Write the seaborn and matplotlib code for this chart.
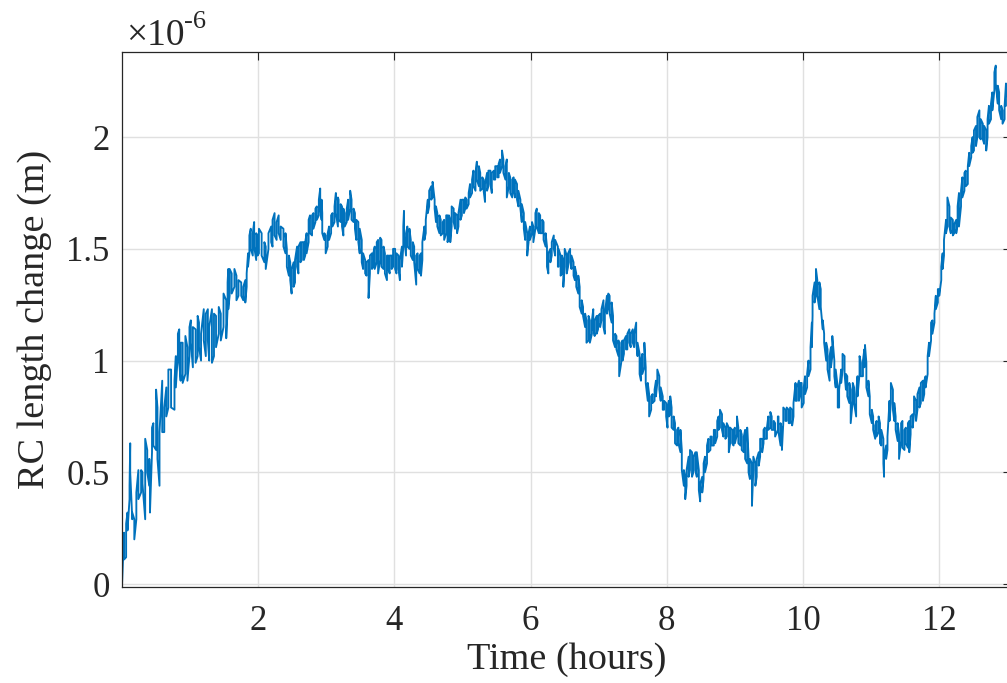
import numpy as np
import pandas as pd
import seaborn as sns
import matplotlib
matplotlib.use("Agg")
import matplotlib.pyplot as plt
from matplotlib.ticker import FuncFormatter

# trace: for every time step the upper and lower edge
# of the noisy band (length change in units of 1e-6 m)
hours = [
    0, 0.01, 0.03, 0.06, 0.08, 0.11, 0.12, 0.15, 0.18, 0.21, 0.24, 0.28, 0.30, 0.34, 0.37,
    0.40, 0.41, 0.44, 0.46, 0.50, 0.52, 0.55, 0.59, 0.62, 0.65, 0.68, 0.72, 0.77, 0.79, 0.82,
    0.84, 0.86, 0.89, 0.93, 0.96, 0.99, 1.01, 1.04, 1.08, 1.11, 1.13, 1.16, 1.20, 1.23, 1.26,
    1.28, 1.32, 1.35, 1.38, 1.42, 1.45, 1.49, 1.53, 1.55, 1.56,
    1.58, 1.61, 1.65, 1.68, 1.71, 1.75, 1.78, 1.81, 1.83, 1.85, 1.87, 1.89, 1.92, 1.94, 1.97,
    1.99, 2.01, 2.05, 2.09, 2.11, 2.15, 2.19, 2.21, 2.24, 2.27, 2.30, 2.33, 2.37, 2.40, 2.42,
    2.45, 2.47, 2.49, 2.52, 2.54, 2.57, 2.59, 2.62, 2.64, 2.67, 2.69, 2.71, 2.74, 2.76, 2.79,
    2.81, 2.84, 2.86, 2.89, 2.91, 2.93, 2.94, 2.97, 2.99, 3.02, 3.04, 3.07, 3.09, 3.12, 3.14, 3.17,
    3.18, 3.21, 3.23, 3.25, 3.27, 3.30, 3.32, 3.35, 3.37, 3.40, 3.42, 3.44, 3.47, 3.49, 3.52,
    3.54, 3.57, 3.59, 3.62, 3.64, 3.67, 3.69, 3.71, 3.74, 3.76, 3.79, 3.81, 3.84, 3.86, 3.89,
    3.91, 3.93, 3.96, 3.98, 4.01, 4.03, 4.06, 4.08, 4.11, 4.13, 4.14, 4.17, 4.19, 4.22, 4.24,
    4.27, 4.29, 4.32, 4.34, 4.37, 4.39, 4.41, 4.44, 4.46, 4.49, 4.51, 4.54, 4.56, 4.59, 4.61,
    4.63, 4.66, 4.68, 4.71, 4.73, 4.76, 4.78,
    4.80, 4.82, 4.84, 4.87, 4.89, 4.92, 4.94, 4.97, 4.99, 5.02, 5.04, 5.06, 5.09, 5.11, 5.14,
    5.16, 5.19, 5.21, 5.24, 5.26, 5.29, 5.31, 5.33, 5.36, 5.38, 5.41, 5.43, 5.46, 5.48, 5.51,
    5.53, 5.55, 5.58, 5.60, 5.63, 5.65, 5.68, 5.70, 5.73, 5.75, 5.77, 5.80, 5.82, 5.85, 5.87,
    5.90, 5.92, 5.95, 5.97, 5.99, 6.02, 6.04, 6.07, 6.09, 6.12, 6.14, 6.17, 6.19, 6.22, 6.24,
    6.26, 6.29, 6.31, 6.34, 6.36, 6.40,
    6.41, 6.44, 6.46, 6.48, 6.50, 6.53, 6.55, 6.58, 6.60, 6.63, 6.65, 6.67, 6.70, 6.72, 6.75,
    6.77, 6.80, 6.82, 6.85, 6.87, 6.90, 6.92, 6.94, 6.97, 6.99, 7.02, 7.04, 7.07, 7.09, 7.12,
    7.14, 7.16, 7.19, 7.21, 7.24, 7.26, 7.29, 7.30, 7.33, 7.35, 7.37, 7.40, 7.42, 7.45, 7.47,
    7.50, 7.52, 7.55, 7.57, 7.60, 7.62, 7.64, 7.67, 7.69, 7.72, 7.74, 7.77, 7.79, 7.82, 7.84,
    7.86, 7.89, 7.91, 7.94, 7.96, 7.99, 8.01,
    8.03, 8.05, 8.07, 8.10, 8.12, 8.15, 8.17, 8.20, 8.22, 8.25, 8.27, 8.29, 8.32, 8.34, 8.37,
    8.39, 8.42, 8.44, 8.47, 8.49, 8.52, 8.54, 8.56, 8.59, 8.61, 8.64, 8.66, 8.69, 8.71, 8.74,
    8.76, 8.78, 8.81, 8.83, 8.86, 8.88, 8.91, 8.93, 8.96, 8.98, 9.00, 9.03, 9.05, 9.08, 9.10,
    9.13, 9.15, 9.18, 9.20, 9.22, 9.25, 9.27, 9.30, 9.32, 9.35, 9.37, 9.40, 9.42, 9.44, 9.47,
    9.49, 9.52, 9.54, 9.57, 9.59, 9.63,
    9.64, 9.67, 9.69, 9.71, 9.74, 9.76, 9.79, 9.81, 9.84, 9.86, 9.89, 9.91, 9.94, 9.96, 9.98,
    10.01, 10.03, 10.06, 10.08, 10.11, 10.13, 10.14, 10.17, 10.19, 10.21, 10.24, 10.26, 10.29,
    10.31, 10.34, 10.36, 10.39, 10.41, 10.43, 10.46, 10.48, 10.51, 10.53, 10.56, 10.58, 10.61,
    10.63, 10.65, 10.68, 10.70, 10.73, 10.75, 10.78, 10.80, 10.83, 10.85, 10.88, 10.90, 10.91,
    10.93, 10.96, 10.98, 11.01, 11.03, 11.06, 11.08, 11.11, 11.13, 11.15, 11.18, 11.19, 11.22, 11.24,
    11.27, 11.29, 11.32, 11.34, 11.36, 11.39, 11.41, 11.44, 11.46, 11.49, 11.51, 11.54, 11.56,
    11.58, 11.61, 11.63, 11.66, 11.68, 11.71, 11.73, 11.76, 11.78, 11.80, 11.83, 11.85, 11.88,
    11.90, 11.93, 11.95, 11.98, 12.00, 12.03, 12.05, 12.07, 12.10, 12.12, 12.15, 12.17, 12.20,
    12.22, 12.25, 12.27, 12.29, 12.32, 12.34, 12.37, 12.39, 12.42, 12.44, 12.47, 12.49, 12.51,
    12.54, 12.56, 12.59, 12.61, 12.64, 12.66, 12.69, 12.71, 12.73, 12.76, 12.78, 12.81, 12.83,
    12.86, 12.88, 12.91, 12.93, 12.96, 12.98,
]
upper = [
    0.02, 0.09, 0.23, 0.27, 0.32, 0.44, 0.63, 0.32, 0.29, 0.41, 0.51, 0.51, 0.50, 0.65, 0.60,
    0.56, 0.42, 0.70, 0.72, 0.87, 0.79, 0.68, 0.91, 0.79, 0.88, 0.96, 0.96, 0.91, 1.02, 1.12,
    1.14, 1.08, 1.08, 1.11, 1.06, 1.15, 1.18, 1.15, 1.14, 1.20, 1.17, 1.12, 1.23, 1.21, 1.23,
    1.15, 1.23, 1.21, 1.20, 1.24, 1.21, 1.30, 1.27, 1.35, 1.41,
    1.41, 1.39, 1.41, 1.38, 1.36, 1.35, 1.33, 1.36, 1.39, 1.48, 1.56, 1.59, 1.57, 1.62, 1.57,
    1.56, 1.59, 1.57, 1.53, 1.51, 1.57, 1.60, 1.63, 1.66, 1.62, 1.65, 1.60, 1.59, 1.57, 1.50,
    1.47, 1.44, 1.41, 1.44, 1.45, 1.51, 1.51, 1.53, 1.53, 1.53, 1.53, 1.57, 1.63, 1.65, 1.65,
    1.66, 1.68, 1.69, 1.72, 1.77, 1.72, 1.66, 1.57, 1.56, 1.57, 1.60, 1.65, 1.66, 1.69, 1.75, 1.73,
    1.72, 1.70, 1.69, 1.68, 1.66, 1.68, 1.72, 1.76, 1.72, 1.68, 1.66, 1.63, 1.62, 1.59, 1.54,
    1.48, 1.45, 1.44, 1.45, 1.47, 1.48, 1.48, 1.51, 1.53, 1.54, 1.55, 1.54, 1.51, 1.48, 1.47,
    1.47, 1.47, 1.47, 1.50, 1.50, 1.48, 1.47, 1.45, 1.51, 1.60, 1.67, 1.57, 1.60, 1.59, 1.54,
    1.53, 1.51, 1.47, 1.48, 1.47, 1.48, 1.53, 1.60, 1.63, 1.72, 1.76, 1.78, 1.80, 1.72, 1.69,
    1.66, 1.65, 1.63, 1.62, 1.63, 1.65, 1.65,
    1.65, 1.63, 1.69, 1.68, 1.66, 1.65, 1.66, 1.72, 1.72, 1.72, 1.73, 1.72, 1.75, 1.79, 1.81,
    1.85, 1.84, 1.89, 1.87, 1.84, 1.82, 1.81, 1.79, 1.84, 1.85, 1.85, 1.84, 1.85, 1.87, 1.87,
    1.88, 1.90, 1.94, 1.90, 1.87, 1.90, 1.84, 1.82, 1.81, 1.82, 1.81, 1.79, 1.76, 1.72, 1.70,
    1.66, 1.62, 1.57, 1.57, 1.60, 1.62, 1.60, 1.66, 1.68, 1.66, 1.65, 1.63, 1.62, 1.57, 1.51,
    1.48, 1.50, 1.53, 1.56, 1.54, 1.51,
    1.50, 1.47, 1.47, 1.45, 1.50, 1.47, 1.48, 1.50, 1.47, 1.44, 1.42, 1.39, 1.38, 1.33, 1.27,
    1.24, 1.21, 1.18, 1.20, 1.18, 1.18, 1.23, 1.18, 1.20, 1.20, 1.21, 1.23, 1.27, 1.21, 1.29,
    1.30, 1.29, 1.26, 1.20, 1.12, 1.11, 1.09, 1.06, 1.08, 1.09, 1.09, 1.11, 1.12, 1.14, 1.12,
    1.14, 1.12, 1.17, 1.08, 1.03, 1.00, 1.03, 1.08, 0.97, 0.90, 0.85, 0.84, 0.85, 0.87, 0.91,
    0.96, 0.93, 0.88, 0.84, 0.82, 0.81, 0.79,
    0.82, 0.84, 0.79, 0.75, 0.72, 0.69, 0.70, 0.69, 0.60, 0.51, 0.48, 0.51, 0.57, 0.60, 0.59,
    0.57, 0.59, 0.59, 0.51, 0.45, 0.48, 0.54, 0.57, 0.62, 0.65, 0.66, 0.66, 0.69, 0.69, 0.73,
    0.75, 0.78, 0.76, 0.72, 0.70, 0.72, 0.70, 0.70, 0.69, 0.69, 0.70, 0.75, 0.70, 0.69, 0.67,
    0.66, 0.69, 0.70, 0.57, 0.56, 0.54, 0.57, 0.54, 0.56, 0.59, 0.65, 0.65, 0.69, 0.70, 0.70,
    0.75, 0.77, 0.75, 0.73, 0.72, 0.75,
    0.75, 0.72, 0.69, 0.79, 0.78, 0.79, 0.78, 0.79, 0.78, 0.81, 0.90, 0.88, 0.91, 0.90, 0.90,
    0.88, 0.93, 0.94, 1.00, 1.06, 1.17, 1.29, 1.35, 1.41, 1.36, 1.35, 1.32, 1.18,
    1.12, 1.08, 1.05, 1.02, 1.06, 1.11, 1.00, 0.96, 0.88, 0.87, 0.96, 1.03, 1.02,
    0.94, 0.93, 0.90, 0.87, 0.90, 0.88, 0.85, 0.93, 1.02, 0.99, 1.00, 1.05, 1.07,
    0.99, 0.91, 0.84, 0.78, 0.75, 0.71, 0.73, 0.75, 0.72, 0.69, 0.65, 0.57, 0.62, 0.66,
    0.82, 0.90, 0.87, 0.81, 0.75, 0.72, 0.67, 0.72, 0.73, 0.69, 0.70, 0.72, 0.73,
    0.75, 0.76, 0.84, 0.82, 0.85, 0.88, 0.90, 0.91, 0.91, 0.93, 1.02, 1.08, 1.17,
    1.18, 1.21, 1.29, 1.32, 1.32, 1.42, 1.48, 1.54, 1.63, 1.73, 1.69, 1.64, 1.63,
    1.61, 1.63, 1.69, 1.75, 1.76, 1.82, 1.84, 1.85, 1.87, 1.93, 1.96, 2.00, 2.03,
    2.05, 2.09, 2.12, 2.08, 2.06, 2.05, 2.03, 2.08, 2.14, 2.15, 2.20, 2.29, 2.32,
    2.23, 2.20, 2.14, 2.12, 2.14, 2.24,
]
lower = [
    0.00, 0.08, 0.11, 0.12, 0.24, 0.38, 0.50, 0.29, 0.20, 0.29, 0.38, 0.41, 0.45, 0.29, 0.50,
    0.44, 0.32, 0.59, 0.62, 0.60, 0.56, 0.44, 0.68, 0.68, 0.75, 0.79, 0.79, 0.78, 0.88, 1.03,
    0.99, 0.91, 0.90, 0.94, 0.91, 1.02, 1.08, 0.97, 0.99, 1.02, 1.06, 1.00, 1.09, 1.02, 1.09,
    1.00, 0.99, 1.02, 1.06, 1.12, 1.09, 1.15, 1.10, 1.23, 1.23,
    1.29, 1.30, 1.33, 1.27, 1.29, 1.29, 1.27, 1.26, 1.33, 1.42, 1.48, 1.50, 1.47, 1.51, 1.45,
    1.47, 1.48, 1.47, 1.44, 1.41, 1.50, 1.53, 1.51, 1.56, 1.54, 1.57, 1.54, 1.51, 1.48, 1.42,
    1.38, 1.36, 1.30, 1.33, 1.35, 1.42, 1.39, 1.44, 1.45, 1.45, 1.47, 1.48, 1.53, 1.57, 1.56,
    1.59, 1.62, 1.63, 1.65, 1.69, 1.63, 1.57, 1.54, 1.48, 1.51, 1.54, 1.57, 1.60, 1.62, 1.66, 1.60,
    1.63, 1.62, 1.60, 1.56, 1.60, 1.62, 1.63, 1.68, 1.63, 1.62, 1.59, 1.54, 1.53, 1.48, 1.44,
    1.41, 1.39, 1.38, 1.28, 1.39, 1.41, 1.42, 1.41, 1.44, 1.39, 1.45, 1.42, 1.41, 1.39, 1.36,
    1.41, 1.39, 1.41, 1.42, 1.41, 1.39, 1.41, 1.36, 1.42, 1.51, 1.56, 1.47, 1.51, 1.50, 1.47,
    1.45, 1.44, 1.34, 1.41, 1.39, 1.38, 1.45, 1.54, 1.57, 1.66, 1.69, 1.72, 1.73, 1.68, 1.62,
    1.60, 1.57, 1.56, 1.57, 1.54, 1.57, 1.53,
    1.56, 1.53, 1.60, 1.62, 1.59, 1.57, 1.60, 1.63, 1.65, 1.66, 1.68, 1.68, 1.70, 1.73, 1.75,
    1.78, 1.76, 1.81, 1.78, 1.76, 1.77, 1.76, 1.71, 1.76, 1.78, 1.79, 1.75, 1.81, 1.81, 1.82,
    1.82, 1.84, 1.87, 1.84, 1.81, 1.73, 1.78, 1.75, 1.73, 1.76, 1.73, 1.72, 1.69, 1.68, 1.62,
    1.59, 1.54, 1.47, 1.53, 1.54, 1.57, 1.53, 1.59, 1.60, 1.57, 1.57, 1.57, 1.54, 1.51, 1.42,
    1.39, 1.44, 1.47, 1.50, 1.47, 1.42,
    1.42, 1.38, 1.39, 1.33, 1.42, 1.39, 1.42, 1.44, 1.41, 1.38, 1.36, 1.33, 1.30, 1.24, 1.21,
    1.20, 1.15, 1.08, 1.09, 1.08, 1.12, 1.15, 1.11, 1.12, 1.14, 1.15, 1.18, 1.15, 1.12, 1.21,
    1.24, 1.21, 1.17, 1.09, 1.06, 1.05, 1.02, 0.93, 0.99, 1.00, 1.03, 1.05, 1.05, 1.08, 1.06,
    1.08, 1.06, 1.08, 1.02, 0.94, 0.91, 0.94, 0.97, 0.90, 0.82, 0.75, 0.78, 0.81, 0.82, 0.84,
    0.90, 0.87, 0.82, 0.78, 0.78, 0.75, 0.70,
    0.75, 0.76, 0.70, 0.69, 0.63, 0.62, 0.63, 0.59, 0.51, 0.44, 0.38, 0.44, 0.48, 0.51, 0.48,
    0.50, 0.51, 0.48, 0.42, 0.37, 0.41, 0.47, 0.50, 0.54, 0.59, 0.60, 0.62, 0.62, 0.63, 0.66,
    0.69, 0.70, 0.69, 0.66, 0.65, 0.66, 0.59, 0.63, 0.63, 0.62, 0.63, 0.67, 0.63, 0.62, 0.60,
    0.59, 0.56, 0.54, 0.50, 0.47, 0.35, 0.51, 0.44, 0.48, 0.53, 0.57, 0.59, 0.63, 0.65, 0.65,
    0.69, 0.70, 0.69, 0.69, 0.66, 0.69,
    0.68, 0.62, 0.60, 0.72, 0.73, 0.73, 0.72, 0.72, 0.71, 0.75, 0.82, 0.82, 0.82, 0.85, 0.79,
    0.81, 0.85, 0.88, 0.93, 0.96, 1.06, 1.20, 1.26, 1.30, 1.29, 1.23, 1.24, 1.14,
    1.08, 1.00, 0.96, 0.91, 0.97, 1.02, 0.93, 0.88, 0.79, 0.79, 0.90, 0.96, 0.94,
    0.87, 0.84, 0.81, 0.72, 0.82, 0.81, 0.75, 0.84, 0.94, 0.93, 0.93, 0.97, 0.99,
    0.88, 0.84, 0.76, 0.72, 0.69, 0.65, 0.66, 0.68, 0.63, 0.62, 0.54, 0.48, 0.56, 0.60,
    0.73, 0.81, 0.78, 0.73, 0.69, 0.64, 0.56, 0.64, 0.61, 0.60, 0.63, 0.61, 0.59,
    0.67, 0.70, 0.76, 0.73, 0.78, 0.79, 0.81, 0.82, 0.85, 0.88, 0.94, 1.02, 1.09,
    1.12, 1.17, 1.23, 1.26, 1.29, 1.36, 1.41, 1.47, 1.57, 1.60, 1.60, 1.57, 1.56,
    1.57, 1.57, 1.61, 1.60, 1.69, 1.73, 1.76, 1.78, 1.79, 1.87, 1.91, 1.93, 1.94,
    1.96, 2.00, 2.00, 1.99, 1.99, 1.97, 1.94, 2.00, 2.06, 2.08, 2.12, 2.21, 2.24,
    2.15, 2.12, 2.08, 2.06, 2.08, 2.14,
]
x_ticks = [2, 4, 6, 8, 10, 12]
y_ticks = [0, 0.5, 1, 1.5, 2]

# zigzag between the band edges so the line looks like the dense noisy trace
t_line, v_line = [], []
for i, (t, hi, lo) in enumerate(zip(hours, upper, lower, strict=True)):
    pair = (hi, lo) if i % 2 == 0 else (lo, hi)
    t_line += [t, t]
    v_line += list(pair)
df = pd.DataFrame({"Time (hours)": t_line,
                   "RC length change (m)": np.array(v_line) * 1e-6})

sns.set_style("white")
plt.rcParams["font.family"] = ["Liberation Serif", "DejaVu Serif"]

fig = plt.figure(figsize=(10.07, 6.83), dpi=100)
ax = fig.add_axes([0.1212, 0.1406, 0.8825, 0.7833])

sns.lineplot(data=df, x="Time (hours)", y="RC length change (m)", estimator=None,
             sort=False, color="#0072BD", linewidth=1.35, ax=ax)

ax.set_xlim(0, 13.05)
ax.set_ylim(-0.013e-6, 2.381e-6)
ax.set_xticks(x_ticks)
ax.set_yticks([v * 1e-6 for v in y_ticks])
ax.yaxis.set_major_formatter(FuncFormatter(lambda v, p: "%g" % round(v * 1e6, 3)))

ax.grid(True, color="#e0e0e0", linewidth=1.0)
ax.set_axisbelow(True)
for s in ax.spines.values():
    s.set_color("#262626")
    s.set_linewidth(0.9)
ax.tick_params(direction="in", length=6, width=0.8, top=True, right=True,
               labelsize=25, colors="#262626")
ax.tick_params(axis="x", pad=13)
ax.tick_params(axis="y", pad=9)
ax.set_xlabel("Time (hours)", fontsize=27.5, color="#262626", labelpad=3)
ax.set_ylabel("RC length change (m)", fontsize=27.5, color="#262626", labelpad=10)

# exponent label in the corner, drawn like the original (x10 with a raised -6)
base = ax.text(0.004, 1.013, "\u00d710", transform=ax.transAxes,
               ha="left", va="baseline", fontsize=27, color="#262626")
ax.annotate("-6", xy=(1, 0), xycoords=base, xytext=(0, 18),
            textcoords="offset points", ha="left", va="baseline",
            fontsize=19, color="#262626")

fig.savefig("out.png", dpi=100)
